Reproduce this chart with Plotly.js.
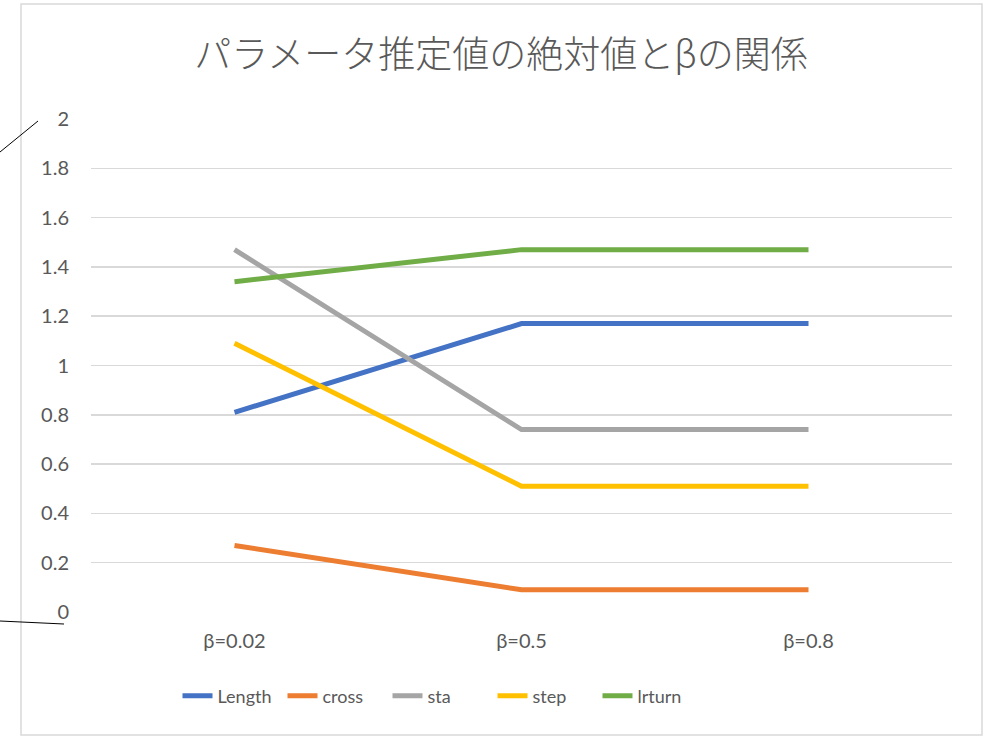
<!DOCTYPE html>
<html>
<head>
<meta charset="utf-8">
<script src="https://cdn.plot.ly/plotly-3.0.1.min.js"></script>
<style>
  html, body { margin: 0; padding: 0; background: #ffffff; }
  #chart { width: 992px; height: 736px; }
</style>
</head>
<body>
<div id="chart"></div>
<script>
// Categories (β values) and the absolute parameter estimates for each feature
const categories = ["β=0.02", "β=0.5", "β=0.8"];
const lengthVals = [0.81, 1.17, 1.17];
const crossVals  = [0.27, 0.09, 0.09];
const staVals    = [1.47, 0.74, 0.74];
const stepVals   = [1.09, 0.51, 0.51];
const lrturnVals = [1.34, 1.47, 1.47];
const yTickVals  = [0, 0.2, 0.4, 0.6, 0.8, 1, 1.2, 1.4, 1.6, 1.8, 2];
const yTickText  = ["0", "0.2", "0.4", "0.6", "0.8", "1", "1.2", "1.4", "1.6", "1.8", "2"];

const W = 992, H = 736;
const M = { l: 91, r: 40, t: 119, b: 124 };
const plotW = W - M.l - M.r, plotH = H - M.t - M.b;
// pixel position -> paper coordinates for the decorations outside the plot
const px = x => (x - M.l) / plotW;
const py = y => 1 - (y - M.t) / plotH;

const font = "Lato, 'Noto Sans', sans-serif";
const textColor = "#595959";

function series(name, vals, color) {
  return {
    type: "scatter", mode: "lines", name: name,
    x: categories, y: vals,
    line: { color: color, width: 5 },
    hoverinfo: "x+y+name"
  };
}

const data = [
  series("Length", lengthVals, "#4472C4"),
  series("cross",  crossVals,  "#ED7D31"),
  series("sta",    staVals,    "#A5A5A5"),
  series("step",   stepVals,   "#FFC000"),
  series("lrturn", lrturnVals, "#70AD47")
];

const layout = {
  width: W, height: H,
  margin: M,
  paper_bgcolor: "#ffffff",
  plot_bgcolor: "#ffffff",
  font: { family: font, color: textColor, size: 20 },
  title: {
    text: "パラメータ推定値の絶対値とβの関係",
    font: { family: "'Noto Sans CJK JP', sans-serif", size: 37, weight: 300, color: textColor },
    xref: "paper", x: px(501), xanchor: "center",
    yref: "container", y: 1 - 55 / H, yanchor: "middle"
  },
  xaxis: {
    type: "category",
    range: [-0.5, 2.5],
    showgrid: false, zeroline: false, showline: false,
    ticks: "", ticklabelstandoff: 15,
    tickfont: { family: font, size: 20, color: textColor },
    fixedrange: true
  },
  yaxis: {
    range: [0, 2],
    tickvals: yTickVals, ticktext: yTickText,
    showgrid: true, gridcolor: "#d9d9d9", gridwidth: 1.5,
    zeroline: false, showline: false,
    ticks: "", ticklabelstandoff: 21,
    tickfont: { family: font, size: 20, color: textColor },
    fixedrange: true
  },
  showlegend: true,
  legend: {
    orientation: "h",
    xref: "paper", x: px(440), xanchor: "center",
    yref: "paper", y: py(696), yanchor: "middle",
    font: { family: font, size: 18, color: textColor },
    entrywidth: 60, entrywidthmode: "pixels",
    itemwidth: 30,
    tracegroupgap: 0
  },
  shapes: [
    // chart frame
    { type: "rect", xref: "paper", yref: "paper",
      x0: px(21), x1: px(982), y0: py(735), y1: py(4),
      line: { color: "#d9d9d9", width: 1.5 }, layer: "below" },
    // connector lines at the left edge
    { type: "line", xref: "paper", yref: "paper",
      x0: px(0), y0: py(152), x1: px(38), y1: py(121),
      line: { color: "#000000", width: 1 } },
    { type: "line", xref: "paper", yref: "paper",
      x0: px(0), y0: py(621), x1: px(64), y1: py(624),
      line: { color: "#000000", width: 1 } }
  ]
};

Plotly.newPlot("chart", data, layout, { displayModeBar: false, staticPlot: true });
</script>
</body>
</html>
